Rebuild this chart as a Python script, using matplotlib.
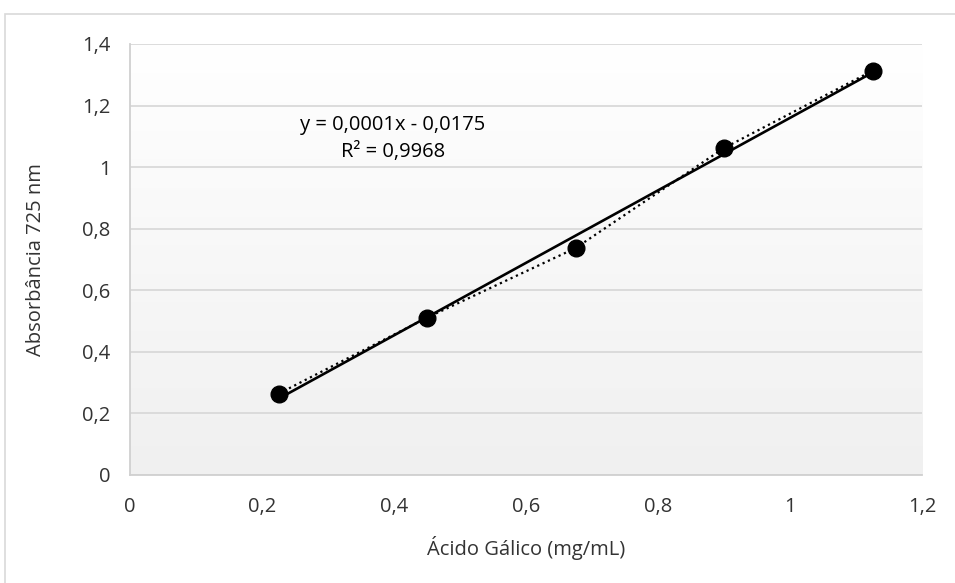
import numpy as np
import matplotlib
matplotlib.use("Agg")
import matplotlib.pyplot as plt
from matplotlib.patches import Rectangle
from matplotlib.ticker import FuncFormatter

# gallic acid calibration data
concentracao = [0.225, 0.45, 0.675, 0.9, 1.125]
absorbancia = [0.264, 0.511, 0.737, 1.062, 1.313]
equacao = "y = 0,0001x - 0,0175"
r2_texto = "R² = 0,9968"
x_ticks = [0, 0.2, 0.4, 0.6, 0.8, 1.0, 1.2]
y_ticks = [0, 0.2, 0.4, 0.6, 0.8, 1.0, 1.2, 1.4]

plt.rcParams['font.family'] = ['Open Sans', 'DejaVu Sans']
texto_cor = '#333333'
fs = 14.5

fig = plt.figure(figsize=(9.55, 5.83), dpi=100)
fig.patches.append(Rectangle((5 / 955, -0.1), 1.1, 1.1 - 14 / 583,
                             transform=fig.transFigure, fill=False,
                             edgecolor='#d9d9d9', linewidth=1.2))

ax = fig.add_axes([130 / 955, 108 / 583, 792 / 955, 431 / 583])

# plot-area gradient: white on top, light grey at bottom
grad = np.linspace(0, 1, 256).reshape(-1, 1)
ax.imshow(grad, extent=[0, 1, 0, 1], transform=ax.transAxes, aspect='auto',
          cmap=matplotlib.colors.LinearSegmentedColormap.from_list(
              'g', ['#ffffff', '#f0f0f0']), origin='upper', zorder=0)

ax.set_xlim(0, 1.2)
ax.set_ylim(0, 1.4)
ax.set_xticks(x_ticks)
ax.set_yticks(y_ticks)
fmt = FuncFormatter(lambda v, p: ('%g' % round(v, 2)).replace('.', ','))
ax.xaxis.set_major_formatter(fmt)
ax.yaxis.set_major_formatter(fmt)
ax.tick_params(length=0, labelsize=fs, labelcolor=texto_cor)
ax.tick_params(axis='y', pad=14)
ax.tick_params(axis='x', pad=16)
ax.grid(axis='y', color='#d9d9d9', linewidth=1.3, zorder=1)
ax.set_axisbelow(True)

for lado in ['top', 'right']:
    ax.spines[lado].set_visible(False)
for lado in ['left', 'bottom']:
    ax.spines[lado].set_color('#d0d0d0')
    ax.spines[lado].set_linewidth(1.3)

# linear trendline
coef = np.polyfit(concentracao, absorbancia, 1)
xs = np.array([min(concentracao), max(concentracao)])
ax.plot(xs, np.polyval(coef, xs), color='black', linewidth=1.9, zorder=3)

# data points with dotted connector
ax.plot(concentracao, absorbancia, linestyle=':', color='black',
        linewidth=1.6, marker='o', markersize=12, zorder=4)

ax.text(0.398, 1.137, equacao, fontsize=fs, color='black', ha='center', va='center')
ax.text(0.398, 1.049, r2_texto, fontsize=fs, color='black', ha='center', va='center')

ax.set_xlabel('Ácido Gálico (mg/mL)', fontsize=fs, color=texto_cor)
ax.set_ylabel('Absorbância 725 nm', fontsize=fs, color=texto_cor)
ax.xaxis.set_label_coords(0.5, -(536 - 475) / 431)
ax.yaxis.set_label_coords((46 - 130) / 792, 0.5)

fig.savefig('out.png', dpi=100)
